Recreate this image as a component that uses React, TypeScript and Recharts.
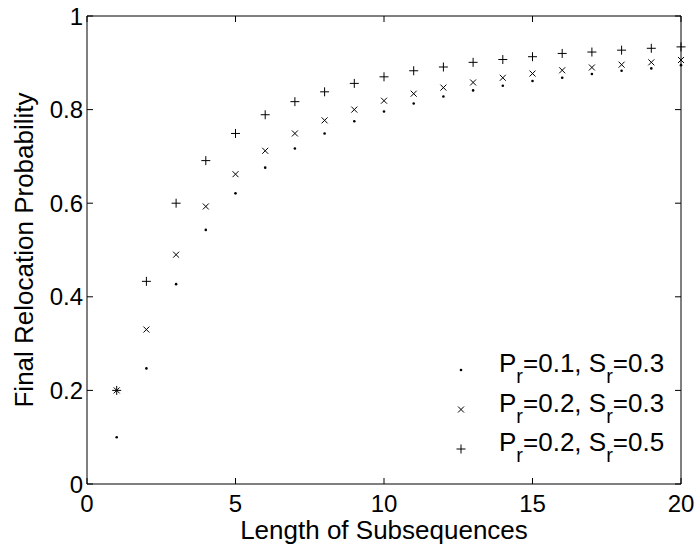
import React from 'react';
import { ScatterChart, Scatter, XAxis, YAxis, Legend, Label } from 'recharts';

const lengths = [1, 2, 3, 4, 5, 6, 7, 8, 9, 10, 11, 12, 13, 14, 15, 16, 17, 18, 19, 20];
const seriesA = [0.100, 0.247, 0.427, 0.543, 0.621, 0.676, 0.717, 0.749, 0.775, 0.796, 0.813, 0.828, 0.841, 0.851, 0.861, 0.868, 0.876, 0.883, 0.888, 0.895];
const seriesB = [0.200, 0.330, 0.490, 0.593, 0.662, 0.712, 0.749, 0.777, 0.800, 0.819, 0.834, 0.847, 0.858, 0.868, 0.877, 0.884, 0.890, 0.896, 0.901, 0.906];
const seriesC = [0.200, 0.433, 0.600, 0.691, 0.749, 0.789, 0.817, 0.838, 0.856, 0.870, 0.883, 0.891, 0.901, 0.907, 0.913, 0.920, 0.923, 0.927, 0.931, 0.934];
const xTicks = [0, 5, 10, 15, 20];
const yTicks = [0, 0.2, 0.4, 0.6, 0.8, 1];
const prValues = ['0.1', '0.2', '0.2'];
const srValues = ['0.3', '0.3', '0.5'];
const markerKinds = ['dot', 'cross', 'plus'];

const X_MIN = 0;
const X_MAX = 20;
const Y_MIN = 0;
const Y_MAX = 1;

const FONT = '"Liberation Sans", Arial, Helvetica, sans-serif';

// chart geometry (plot area is set by the margins and axis sizes below)
const CHART_W = 696;
const CHART_H = 544;
const MARGIN = { top: 16, right: 15, bottom: 0, left: 0 };
const Y_AXIS_W = 87;
const X_AXIS_H = 60;
const PL = MARGIN.left + Y_AXIS_W;
const PT = MARGIN.top;
const PR = CHART_W - MARGIN.right;
const PB = CHART_H - MARGIN.bottom - X_AXIS_H;
const TICK_PX = 6;

const toData = (ys: number[]) => lengths.map((x, i) => ({ x, y: ys[i] }));

const drawMarker = (kind: string, cx: number, cy: number) => {
  if (kind === 'dot') return <circle cx={cx} cy={cy} r={1.3} fill="#000" />;
  if (kind === 'cross') {
    const d = 3;
    return (
      <g stroke="#000" strokeWidth={1}>
        <line x1={cx - d} y1={cy - d} x2={cx + d} y2={cy + d} />
        <line x1={cx - d} y1={cy + d} x2={cx + d} y2={cy - d} />
      </g>
    );
  }
  const d = 4.5;
  return (
    <g stroke="#000" strokeWidth={1}>
      <line x1={cx - d} y1={cy} x2={cx + d} y2={cy} />
      <line x1={cx} y1={cy - d} x2={cx} y2={cy + d} />
    </g>
  );
};

const makeShape = (kind: string) => (props: any) => drawMarker(kind, props.cx, props.cy);

const LegendContent = (props: any) => {
  const payload = (props.payload || []).filter((p: any) => p.type !== 'none').slice(0, 3);
  return (
    <svg width={250} height={125} style={{ overflow: 'visible' }}>
      {payload.map((entry: any, i: number) => {
        const cy = 25 + i * 39.5;
        return (
          <g key={i}>
            {drawMarker(markerKinds[i], 21, cy)}
            <text x={59} y={cy + 2} fontFamily={FONT} fontSize={26} fill="#000">
              <tspan>P</tspan>
              <tspan fontSize={20} dy={11}>r</tspan>
              <tspan dy={-11}>{`=${prValues[i]}, S`}</tspan>
              <tspan fontSize={20} dy={11}>r</tspan>
              <tspan dy={-11}>{`=${srValues[i]}`}</tspan>
            </text>
          </g>
        );
      })}
    </svg>
  );
};

// box frame (top and right edges) plus inward tick marks on all four sides
const FrameOverlay = () => {
  const sx = (v: number) => PL + ((v - X_MIN) / (X_MAX - X_MIN)) * (PR - PL);
  const sy = (v: number) => PB - ((v - Y_MIN) / (Y_MAX - Y_MIN)) * (PB - PT);
  return (
    <svg
      width={CHART_W}
      height={CHART_H}
      style={{ position: 'absolute', left: 0, top: 0, pointerEvents: 'none' }}
    >
      <g stroke="#000" strokeWidth={1} fill="none">
        <line x1={PL} y1={PT} x2={PR} y2={PT} />
        <line x1={PR} y1={PT} x2={PR} y2={PB} />
        {xTicks.map((t) => (
          <g key={`x${t}`}>
            <line x1={sx(t)} y1={PB} x2={sx(t)} y2={PB - TICK_PX} />
            <line x1={sx(t)} y1={PT} x2={sx(t)} y2={PT + TICK_PX} />
          </g>
        ))}
        {yTicks.map((t) => (
          <g key={`y${t}`}>
            <line x1={PL} y1={sy(t)} x2={PL + TICK_PX} y2={sy(t)} />
            <line x1={PR} y1={sy(t)} x2={PR - TICK_PX} y2={sy(t)} />
          </g>
        ))}
      </g>
    </svg>
  );
};

export default function App() {
  const tickStyle = { fill: '#000', fontSize: 24, fontFamily: FONT };
  return (
    <div style={{ position: 'absolute', left: 0, top: 0, width: CHART_W, height: CHART_H, background: '#fff', fontFamily: FONT }}>
      <ScatterChart width={CHART_W} height={CHART_H} margin={MARGIN}>
        <XAxis
          dataKey="x"
          type="number"
          domain={[X_MIN, X_MAX]}
          ticks={xTicks}
          height={X_AXIS_H}
          tickSize={0}
          tickLine={false}
          tickMargin={11}
          stroke="#000"
          tick={tickStyle}
          interval={0}
        >
          <Label
            content={() => (
              <text x={384} y={539} textAnchor="middle" fontFamily={FONT} fontSize={26} fill="#000">
                Length of Subsequences
              </text>
            )}
          />
        </XAxis>
        <YAxis
          dataKey="y"
          type="number"
          domain={[Y_MIN, Y_MAX]}
          ticks={yTicks}
          width={Y_AXIS_W}
          tickSize={0}
          tickLine={false}
          tickMargin={4}
          stroke="#000"
          tick={tickStyle}
          interval={0}
        >
          <Label
            content={() => (
              <text
                x={33}
                y={250}
                transform="rotate(-90, 33, 250)"
                textAnchor="middle"
                fontFamily={FONT}
                fontSize={26}
                fill="#000"
              >
                Final Relocation Probability
              </text>
            )}
          />
        </YAxis>
        <Legend
          layout="vertical"
          align="center"
          verticalAlign="middle"
          content={<LegendContent />}
          wrapperStyle={{ position: 'absolute', left: 440, top: 345, width: 250, height: 125 }}
        />
        <Scatter name="Pr=0.1, Sr=0.3" data={toData(seriesA)} shape={makeShape('dot')} isAnimationActive={false} fill="#000" />
        <Scatter name="Pr=0.2, Sr=0.3" data={toData(seriesB)} shape={makeShape('cross')} isAnimationActive={false} fill="#000" />
        <Scatter name="Pr=0.2, Sr=0.5" data={toData(seriesC)} shape={makeShape('plus')} isAnimationActive={false} fill="#000" />
      </ScatterChart>
      <FrameOverlay />
    </div>
  );
}
